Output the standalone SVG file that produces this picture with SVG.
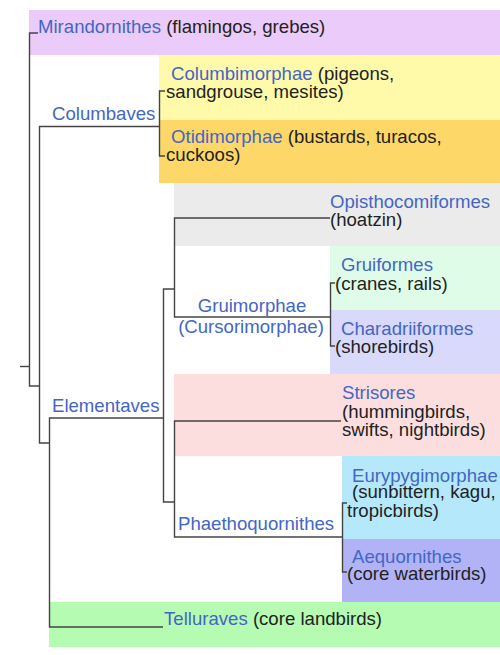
<svg xmlns="http://www.w3.org/2000/svg" width="500" height="655" viewBox="0 0 500 655">
<style>
text{font-family:"Liberation Sans",Arial,sans-serif;font-size:18.6px;fill:#222}
.b{fill:#4466c4}
.c path{fill:none;stroke:#444;stroke-width:1.4}
</style>
<rect width="500" height="655" fill="#fff"/>
<g id="bands">
<rect x="29" y="10" width="471" height="45" fill="#ebcbf9"/>
<rect x="159" y="55" width="341" height="65" fill="#fffaaa"/>
<rect x="159" y="120" width="341" height="63" fill="#fdd767"/>
<rect x="174" y="183" width="326" height="63" fill="#ebebeb"/>
<rect x="330" y="246" width="170" height="64" fill="#dffce8"/>
<rect x="330" y="310" width="170" height="64" fill="#d8d9fb"/>
<rect x="174" y="374" width="326" height="82" fill="#fddede"/>
<rect x="342" y="456" width="158" height="83" fill="#b4e8fa"/>
<rect x="342" y="539" width="158" height="63" fill="#b1b3f6"/>
<rect x="49" y="602" width="451" height="45" fill="#b5fbb2"/>
</g>
<g class="c" id="connectors">
<path d="M20,366.5H29"/>
<path d="M38,33V33H29.5V386H39"/>
<path d="M159,126.5H39.5V443H49"/>
<path d="M165,91H159.5V156H165"/>
<path d="M163,418H49.5V627H163"/>
<path d="M174,289H163.5V502H174"/>
<path d="M330,218H174.5V317H330"/>
<path d="M335,283H330.5V346H335"/>
<path d="M341,421H174.5V537H342"/>
<path d="M347,503H342.5V572H347"/>
</g>
<g id="mirandornithes"><text x="38" y="33"><tspan class="b">Mirandornithes</tspan> (flamingos, grebes)</text></g>
<g id="columbaves"><text class="b" x="52" y="120">Columbaves</text></g>
<g id="columbimorphae"><text x="171" y="80"><tspan class="b">Columbimorphae</tspan> (pigeons,</text><text x="166" y="98">sandgrouse, mesites)</text></g>
<g id="otidimorphae"><text x="171" y="142.5"><tspan class="b">Otidimorphae</tspan> (bustards, turacos,</text><text x="166" y="161">cuckoos)</text></g>
<g id="elementaves"><text class="b" x="52" y="411.5">Elementaves</text></g>
<g id="opisthocomiformes"><text class="b" x="330" y="207.5">Opisthocomiformes</text><text x="330" y="225.5">(hoatzin)</text></g>
<g id="gruimorphae"><text class="b" x="252" y="312" text-anchor="middle">Gruimorphae</text><text class="b" x="251" y="332.5" text-anchor="middle">(Cursorimorphae)</text></g>
<g id="gruiformes"><text class="b" x="341" y="271">Gruiformes</text><text x="335" y="289.5">(cranes, rails)</text></g>
<g id="charadriiformes"><text class="b" x="341" y="334.5">Charadriiformes</text><text x="335" y="352.5">(shorebirds)</text></g>
<g id="strisores"><text class="b" x="342" y="398.5">Strisores</text><text x="342" y="418">(hummingbirds,</text><text x="342" y="436">swifts, nightbirds)</text></g>
<g id="phaethoquornithes"><text class="b" x="178" y="530">Phaethoquornithes</text></g>
<g id="eurypygimorphae"><text class="b" x="352" y="481.5">Eurypygimorphae</text><text x="352" y="498">(sunbittern, kagu,</text><text x="347" y="516.5">tropicbirds)</text></g>
<g id="aequornithes"><text class="b" x="352" y="562.5">Aequornithes</text><text x="347" y="580">(core waterbirds)</text></g>
<g id="telluraves"><text x="164" y="625"><tspan class="b">Telluraves</tspan> (core landbirds)</text></g>
</svg>
